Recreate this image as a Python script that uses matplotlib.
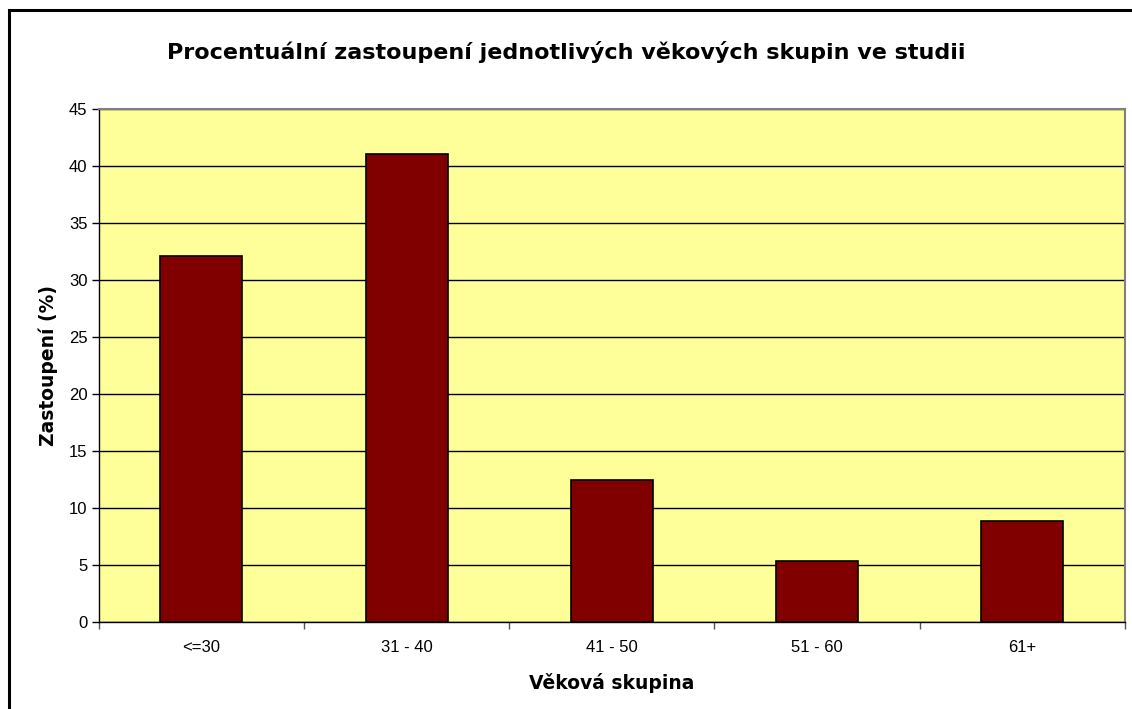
import matplotlib.pyplot as plt
from matplotlib.patches import Rectangle

# data
categories = ["<=30", "31 - 40", "41 - 50", "51 - 60", "61+"]
values = [32.1, 41.1, 12.5, 5.4, 8.9]
y_ticks = list(range(0, 50, 5))

W, H = 1132, 709
fig = plt.figure(figsize=(W / 100, H / 100), dpi=100)
ax = fig.add_axes([98.7 / W, 1 - 622.3 / H, (1125 - 98.7) / W, (622.3 - 109.3) / H])

# outer chart border (runs off the right/bottom of the image)
fig.patches.append(Rectangle((9 / W, -0.05), 1.2, 1 - 10 / H + 0.05,
                             transform=fig.transFigure, fill=False,
                             edgecolor="black", linewidth=2.2, zorder=10))

ax.set_facecolor("#FFFF99")
x = list(range(len(categories)))
ax.bar(x, values, width=0.4, color="#800000", edgecolor="black", linewidth=1.2, zorder=3)

ax.set_xlim(-0.5, len(categories) - 0.5)
ax.set_ylim(0, 45)
ax.set_yticks(y_ticks)
ax.yaxis.grid(True, color="black", linewidth=1.0, zorder=1)
ax.set_axisbelow(True)

# category ticks between bars, labels centred
ax.set_xticks([i + 0.5 for i in range(-1, len(categories))])
ax.set_xticklabels([])
ax.set_xticks(x, minor=True)
ax.set_xticklabels(categories, minor=True, fontsize=12, family="Liberation Sans")
ax.tick_params(axis="x", which="minor", length=0, pad=13)
ax.tick_params(axis="x", which="major", length=5, color="#555555", width=1)
ax.tick_params(axis="y", length=5, width=1, labelsize=12, pad=3)
for lbl in ax.get_yticklabels():
    lbl.set_family("Liberation Sans")

for s in ["top", "right"]:
    ax.spines[s].set_color("#808080")
    ax.spines[s].set_linewidth(1.5)
for s in ["left", "bottom"]:
    ax.spines[s].set_color("black")
    ax.spines[s].set_linewidth(1.0)

fig.text(0.5, 1 - 52 / H, "Procentuální zastoupení jednotlivých věkových skupin ve studii",
         ha="center", va="center", fontsize=16, fontweight="bold", family="DejaVu Sans")
ax.set_xlabel("Věková skupina", fontsize=13.5, fontweight="bold", labelpad=13)
ax.set_ylabel("Zastoupení (%)", fontsize=13.5, fontweight="bold", labelpad=8)

fig.savefig("out.png", dpi=100)
